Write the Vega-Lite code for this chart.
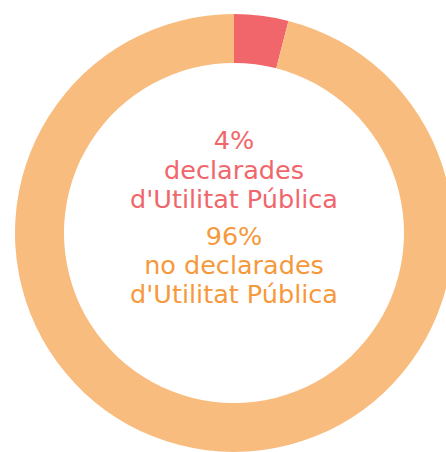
{
  "$schema": "https://vega.github.io/schema/vega-lite/v6.json",
  "width": 446,
  "height": 452,
  "autosize": "none",
  "padding": 0,
  "background": "white",
  "config": {"view": {"stroke": null}},
  "datasets": {
    "parts": [
      {"categoria": "declarades", "valor": 4, "ordre": 1},
      {"categoria": "no declarades", "valor": 96, "ordre": 2}
    ]
  },
  "layer": [
    {
      "data": {"name": "parts"},
      "mark": {"type": "arc", "radius": 219, "radius2": 170, "xOffset": 11, "yOffset": 7},
      "encoding": {
        "theta": {"field": "valor", "type": "quantitative", "stack": true},
        "order": {"field": "ordre", "type": "quantitative"},
        "color": {
          "field": "categoria",
          "type": "nominal",
          "scale": {"domain": ["declarades", "no declarades"], "range": ["#F0666A", "#F9BC7F"]},
          "legend": null
        }
      }
    },
    {
      "data": {"values": [{"t": "4%\ndeclarades\nd'Utilitat Pública"}]},
      "mark": {"type": "text", "font": "DejaVu Sans", "fontSize": 25.5, "color": "#F0666A", "align": "center", "baseline": "alphabetic", "lineBreak": "\n", "lineHeight": 29.5, "xOffset": 11, "yOffset": -77},
      "encoding": {"text": {"field": "t"}}
    },
    {
      "data": {"values": [{"t": "96%\nno declarades\nd'Utilitat Pública"}]},
      "mark": {"type": "text", "font": "DejaVu Sans", "fontSize": 25.5, "color": "#F6993C", "align": "center", "baseline": "alphabetic", "lineBreak": "\n", "lineHeight": 29, "xOffset": 11, "yOffset": 19},
      "encoding": {"text": {"field": "t"}}
    }
  ]
}
